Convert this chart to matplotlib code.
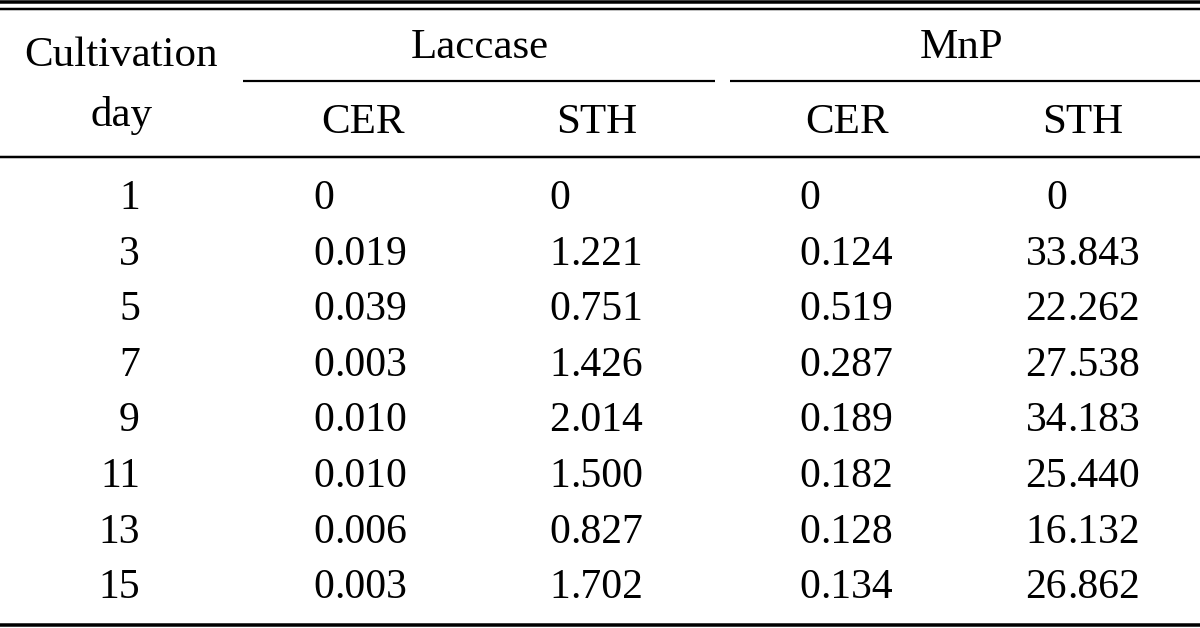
import matplotlib
matplotlib.use("Agg")
import matplotlib.pyplot as plt

days = ["1", "3", "5", "7", "9", "11", "13", "15"]
laccase_cer = ["0", "0.019", "0.039", "0.003", "0.010", "0.010", "0.006", "0.003"]
laccase_sth = ["0", "1.221", "0.751", "1.426", "2.014", "1.500", "0.827", "1.702"]
mnp_cer = ["0", "0.124", "0.519", "0.287", "0.189", "0.182", "0.128", "0.134"]
mnp_sth = ["0", "33.843", "22.262", "27.538", "34.183", "25.440", "16.132", "26.862"]
groups = ["Laccase", "MnP"]
subheads = ["CER", "STH", "CER", "STH"]
first_col = ["Cultivation", "day"]

W, H = 1200, 628
fig = plt.figure(figsize=(W / 100, H / 100), dpi=100)
ax = fig.add_axes([0, 0, 1, 1])
ax.set_xlim(0, W)
ax.set_ylim(H, 0)
ax.axis("off")

FONT = "Liberation Serif"
txt = dict(fontfamily=FONT, fontsize=30, color="black")
htxt = dict(fontfamily=FONT, fontsize=31, color="black")

def px(w):
    return w * 0.72

# rules
ax.hlines(1.8, 0, W, color="black", lw=px(3.5))
ax.hlines(8.8, 0, W, color="black", lw=px(2.5))
ax.hlines(157, 0, W, color="black", lw=px(2.5))
ax.hlines(624.5, 0, W, color="black", lw=px(3.5))
ax.hlines(80.5, 243, 715, color="black", lw=px(2.2))
ax.hlines(80.5, 730, W, color="black", lw=px(2.2))

# header
col_centers = [363, 597, 847, 1083]
group_centers = [480, 962]
ax.text(121, 66, first_col[0], ha="center", va="baseline", **htxt)
ax.text(121, 126, first_col[1], ha="center", va="baseline", **htxt)
for g, xc in zip(groups, group_centers):
    ax.text(xc, 58, g, ha="center", va="baseline", **htxt)
for s, xc in zip(subheads, col_centers):
    ax.text(xc, 133, s, ha="center", va="baseline", **htxt)

# body
row_base0 = 209
row_step = 55.6
dec_x = [334, 570, 820, 1067]
columns = [laccase_cer, laccase_sth, mnp_cer, mnp_sth]
for i, d in enumerate(days):
    yb = row_base0 + i * row_step
    ax.text(140, yb, d, ha="right", va="baseline", **txt)
    for col, dx in zip(columns, dec_x):
        v = col[i]
        if "." in v:
            ip, fp = v.split(".")
            ax.text(dx, yb, ip, ha="right", va="baseline", **txt)
            ax.text(dx, yb, "." + fp, ha="left", va="baseline", **txt)
        else:
            ax.text(dx, yb, v, ha="right", va="baseline", **txt)

fig.savefig("out.png", dpi=100, facecolor="white")
